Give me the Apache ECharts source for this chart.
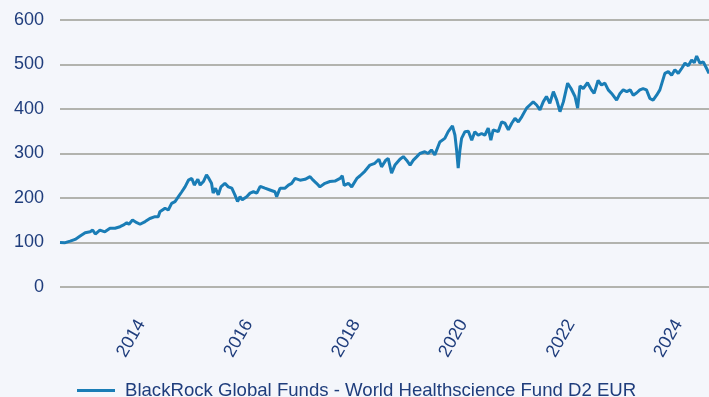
<!DOCTYPE html>
<html>
<head>
<meta charset="utf-8">
<script src="https://cdn.jsdelivr.net/npm/echarts@6/dist/echarts.min.js"></script>
<style>
  html, body { margin: 0; padding: 0; background: #f4f6fb; }
  #chart { width: 709px; height: 397px; }
</style>
</head>
<body>
<div id="chart"></div>
<script>
// Indexed performance (start = 100)
const seriesName = 'BlackRock Global Funds - World Healthscience Fund D2 EUR';
const dates = [
  '2012-06-28','2012-08-02','2012-09-05','2012-10-09','2012-11-12','2012-12-16',
  '2013-01-19','2013-02-05','2013-02-23','2013-03-26','2013-04-29','2013-06-03',
  '2013-07-07','2013-08-10','2013-08-31','2013-09-25','2013-10-10','2013-11-03',
  '2013-12-02','2013-12-24','2014-01-28','2014-03-01','2014-04-05','2014-04-27',
  '2014-05-08','2014-06-12','2014-07-04','2014-07-27','2014-08-19','2014-09-11',
  '2014-10-04','2014-10-26','2014-11-18','2014-12-11','2014-12-28','2015-01-21',
  '2015-02-06','2015-02-28','2015-03-21','2015-04-06','2015-04-24','2015-05-05',
  '2015-05-21','2015-06-09','2015-06-27','2015-07-24','2015-08-16','2015-09-09',
  '2015-09-30','2015-10-18','2015-11-04','2015-11-19','2015-12-19','2016-01-11',
  '2016-02-03','2016-02-26','2016-03-20','2016-04-21','2016-05-25','2016-06-28',
  '2016-07-10','2016-08-02','2016-09-05','2016-09-28','2016-10-20','2016-11-12',
  '2016-12-16','2017-01-19','2017-02-22','2017-03-15','2017-04-07','2017-04-30',
  '2017-06-03','2017-07-07','2017-08-10','2017-09-14','2017-09-29','2017-10-12',
  '2017-11-09','2017-12-02','2018-01-06','2018-01-28','2018-03-01','2018-04-05',
  '2018-05-08','2018-06-05','2018-06-23','2018-07-22','2018-08-07','2018-08-30',
  '2018-09-22','2018-10-26','2018-11-18','2018-12-10','2019-01-03','2019-01-25',
  '2019-02-18','2019-03-10','2019-04-13','2019-05-05','2019-05-28','2019-06-20',
  '2019-07-24','2019-08-27','2019-09-19','2019-10-18','2019-11-04','2019-11-15',
  '2019-11-26','2019-12-08','2019-12-19','2020-01-11','2020-02-03','2020-02-26',
  '2020-03-18','2020-04-10','2020-05-03','2020-05-25','2020-06-17','2020-07-05',
  '2020-07-21','2020-08-24','2020-09-16','2020-10-09','2020-11-01','2020-11-24',
  '2020-12-16','2021-01-08','2021-02-01','2021-03-05','2021-03-27','2021-04-19',
  '2021-05-12','2021-06-04','2021-06-26','2021-07-18','2021-08-10','2021-09-03',
  '2021-09-26','2021-10-18','2021-11-10','2021-12-09','2022-01-01','2022-01-28',
  '2022-02-15','2022-03-03','2022-03-25','2022-04-23','2022-05-20','2022-06-07',
  '2022-07-04','2022-07-27','2022-08-19','2022-09-11','2022-10-04','2022-11-07',
  '2022-11-30','2022-12-22','2023-01-15','2023-02-07','2023-02-28','2023-03-22',
  '2023-04-14','2023-05-06','2023-05-29','2023-06-21','2023-07-13','2023-08-06',
  '2023-08-28','2023-10-01','2023-10-24','2023-11-16','2023-12-08','2023-12-31',
  '2024-01-23','2024-02-15','2024-03-08','2024-03-31','2024-04-18','2024-05-04',
  '2024-05-26','2024-06-18','2024-07-11','2024-07-27'
];
const values = [
  100, 99.6, 103, 107, 114.6, 122,
  124, 128, 119, 128, 124, 132,
  132, 135.5, 139, 144.5, 141, 150.5,
  144.5, 141, 147, 154, 158, 158,
  169, 177, 173, 188, 192, 203,
  214, 225, 240, 244, 229, 242,
  229, 237, 252, 244, 233, 211,
  222, 207, 225, 233, 225, 222,
  207, 192, 203, 196, 203, 211,
  214, 211, 226, 222, 218, 214,
  203, 222, 222, 229, 233, 244,
  240, 242, 248, 240, 233, 225,
  233, 237, 238, 244, 250, 228,
  233, 225, 244, 250, 260, 274,
  278, 287, 270, 285, 289, 256,
  274, 287, 293, 285, 274, 285,
  293, 300, 304, 300, 308, 297,
  326, 334, 349, 362, 341, 308,
  267, 308, 334, 349, 350, 330,
  349, 341, 345, 341, 357, 330,
  353, 349, 371, 368, 353, 368,
  379, 371, 383, 402, 409, 416,
  409, 398, 416, 428, 413, 439,
  420, 394, 416, 458, 446, 428,
  402, 452, 446, 459, 443, 435,
  464, 454, 458, 443, 435, 420,
  435, 443, 439, 443, 431, 436,
  443, 446, 443, 424, 420, 431,
  443, 480, 484, 476, 488, 480,
  491, 503, 497, 510, 504, 519,
  503, 506, 491, 480
];
const yearLabels = [2014, 2016, 2018, 2020, 2022, 2024];
const rangeStart = '2012-06-28';
const rangeEnd = '2024-07-27';

const textColor = '#1f3d7c';
const lineColor = '#1a7db6';
const fontFamily = '"Liberation Sans", Arial, sans-serif';

// dates -> UTC timestamps on a numeric axis
const toTime = s => Date.parse(s + 'T00:00:00Z');

const chart = echarts.init(document.getElementById('chart'), null, { renderer: 'canvas' });

chart.setOption({
  animation: false,
  backgroundColor: '#f4f6fb',
  textStyle: { fontFamily: fontFamily },
  grid: {
    left: 60, right: 0, top: 20, bottom: 110,
    containLabel: false,
    outerBoundsMode: 'none'
  },
  legend: {
    left: 72,
    top: 376,
    icon: 'rect',
    itemWidth: 38,
    itemHeight: 3,
    textStyle: { color: textColor, fontSize: 18.6, fontFamily: fontFamily, padding: [0, 0, 0, 5] },
    data: [seriesName]
  },
  xAxis: {
    type: 'value',
    min: toTime(rangeStart),
    max: toTime(rangeEnd),
    axisLine: { show: false },
    axisTick: { show: false },
    splitLine: { show: false },
    axisLabel: {
      customValues: yearLabels.map(y => Date.UTC(y, 0, 1)),
      formatter: v => String(new Date(v).getUTCFullYear()),
      rotate: 60,
      margin: 34,
      color: textColor,
      fontSize: 18,
      fontFamily: fontFamily
    }
  },
  yAxis: {
    type: 'value',
    min: 0,
    max: 600,
    interval: 100,
    axisLine: { show: false },
    axisTick: { show: false },
    axisLabel: { color: textColor, fontSize: 18, margin: 16, fontFamily: fontFamily },
    splitLine: { lineStyle: { color: '#9d9c95', width: 1.5 } }
  },
  series: [{
    name: seriesName,
    type: 'line',
    data: dates.map((d, i) => [toTime(d), values[i]]),
    showSymbol: false,
    symbol: 'none',
    lineStyle: { color: lineColor, width: 3 },
    itemStyle: { color: lineColor }
  }]
});
</script>
</body>
</html>
